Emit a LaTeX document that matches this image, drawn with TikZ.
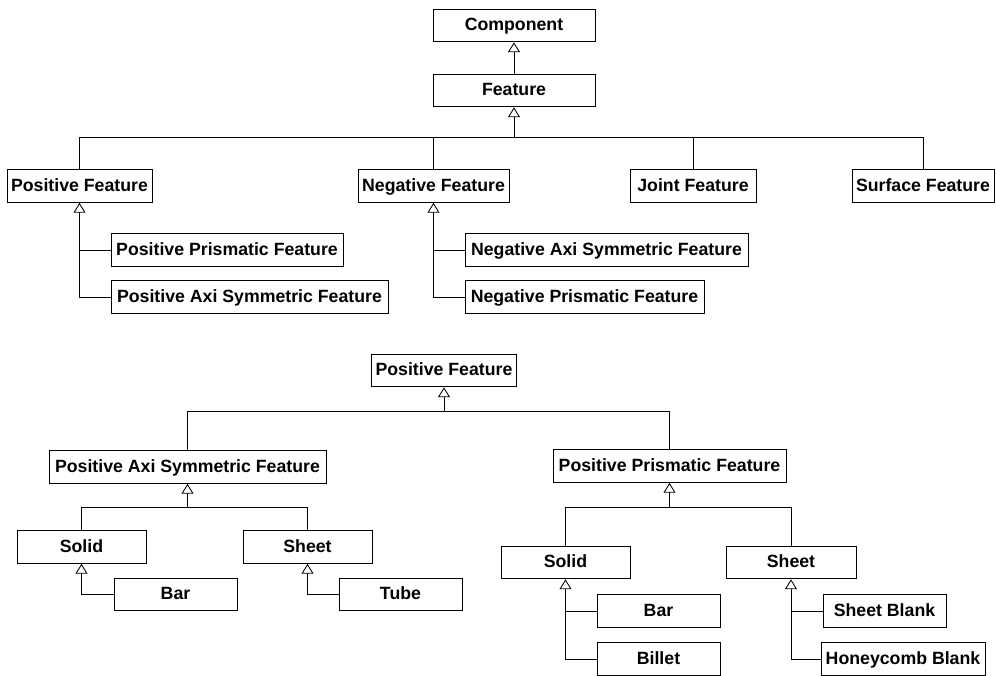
\documentclass[tikz,border=0pt]{standalone}
\usepackage{fontspec}
\setmainfont{Liberation Sans}
\usepackage{tikz}
\usetikzlibrary{arrows.meta,positioning,calc}
\tikzstyle{classbox}=[draw, minimum height=8.2mm, inner xsep=0.5pt, inner ysep=1pt, text height=1.65ex, text depth=0.25ex, font=\bfseries\fontsize{12.6}{14}\selectfont]
\tikzstyle{inharrow}=[-{Triangle[open,length=7pt,width=8.5pt]}]

\begin{document}
\begin{tikzpicture}[x=0.025cm, y=-0.025cm, line width=0.6pt]
    \useasboundingbox (0,0) rectangle (996,676);

    % Hierarquia de features
    \node[classbox, minimum width=40.5mm]  (comp)  at (514,25.5)  {Component};
    \node[classbox, minimum width=40.5mm]  (feat)  at (514,90.5)  {Feature};
    \node[classbox, minimum width=36.25mm] (pos)   at (79.5,186)  {Positive Feature};
    \node[classbox, minimum width=37.75mm] (neg)   at (433.5,186) {Negative Feature};
    \node[classbox, minimum width=31.5mm]  (joint) at (693,186)   {Joint Feature};
    \node[classbox, minimum width=35.5mm]  (surf)  at (923,186)   {Surface Feature};
    \node[classbox, minimum width=58mm]    (ppf)   at (227,250)   {Positive Prismatic Feature};
    \node[classbox, minimum width=69.25mm] (pasf)  at (249.5,297) {Positive Axi Symmetric Feature};
    \node[classbox, minimum width=70.75mm] (nasf)  at (606.5,250) {Negative Axi Symmetric Feature};
    \node[classbox, minimum width=59.75mm] (npf)   at (584.5,297) {Negative Prismatic Feature};

    \draw[inharrow] (feat) -- (comp);
    \coordinate (busA) at (514,137);
    \draw[inharrow] (busA) -- (feat.south);
    \draw (pos.north) |- (busA);
    \draw (surf.north) |- (busA);
    \foreach \n in {neg,joint} {
      \draw (\n.north) -- (\n.north |- busA);
    }
    \draw[inharrow] (pasf.west) -| (pos.south);
    \draw (ppf.west) -- (ppf.west -| pos.south);
    \draw[inharrow] (npf.west) -| (neg.south);
    \draw (nasf.west) -- (nasf.west -| neg.south);

    % Positive Feature detalhado
    \node[classbox, minimum width=36.25mm] (posB)   at (444,370.5)  {Positive Feature};
    \node[classbox, minimum width=69.25mm] (pasfB)  at (187.5,467)  {Positive Axi Symmetric Feature};
    \node[classbox, minimum width=58.25mm] (ppfB)   at (669.5,466)  {Positive Prismatic Feature};
    \node[classbox, minimum width=32.25mm] (solidA) at (81.5,547)   {Solid};
    \node[classbox, minimum width=32.25mm] (sheetA) at (307.5,547)  {Sheet};
    \node[classbox, minimum width=30.75mm] (barA)   at (175.5,594.5) {Bar};
    \node[classbox, minimum width=30.75mm] (tube)   at (400.5,594.5) {Tube};
    \node[classbox, minimum width=32.25mm] (solidB) at (565.5,562.5) {Solid};
    \node[classbox, minimum width=32.5mm]  (sheetB) at (791,562.5)  {Sheet};
    \node[classbox, minimum width=30.75mm] (barB)   at (658.5,611)  {Bar};
    \node[classbox, minimum width=30.75mm] (billet) at (658.5,659)  {Billet};
    \node[classbox, minimum width=30.75mm] (sblank) at (884.5,611)  {Sheet Blank};
    \node[classbox, minimum width=41mm]    (hblank) at (903,659)    {Honeycomb Blank};

    \coordinate (busB) at (444,411);
    \draw[inharrow] (busB) -- (posB.south);
    \draw (pasfB.north) |- (busB);
    \draw (ppfB.north) |- (busB);

    \coordinate (busC) at (187.5,507);
    \draw[inharrow] (busC) -- (pasfB.south);
    \draw (solidA.north) |- (busC);
    \draw (sheetA.north) |- (busC);
    \draw[inharrow] (barA.west) -| (solidA.south);
    \draw[inharrow] (tube.west) -| (sheetA.south);

    \coordinate (busD) at (669.5,507);
    \draw[inharrow] (busD) -- (ppfB.south);
    \draw (solidB.north) |- (busD);
    \draw (sheetB.north) |- (busD);
    \draw[inharrow] (billet.west) -| (solidB.south);
    \draw (barB.west) -- (barB.west -| solidB.south);
    \draw[inharrow] (hblank.west) -| (sheetB.south);
    \draw (sblank.west) -- (sblank.west -| sheetB.south);
  \end{tikzpicture}
\end{document}
